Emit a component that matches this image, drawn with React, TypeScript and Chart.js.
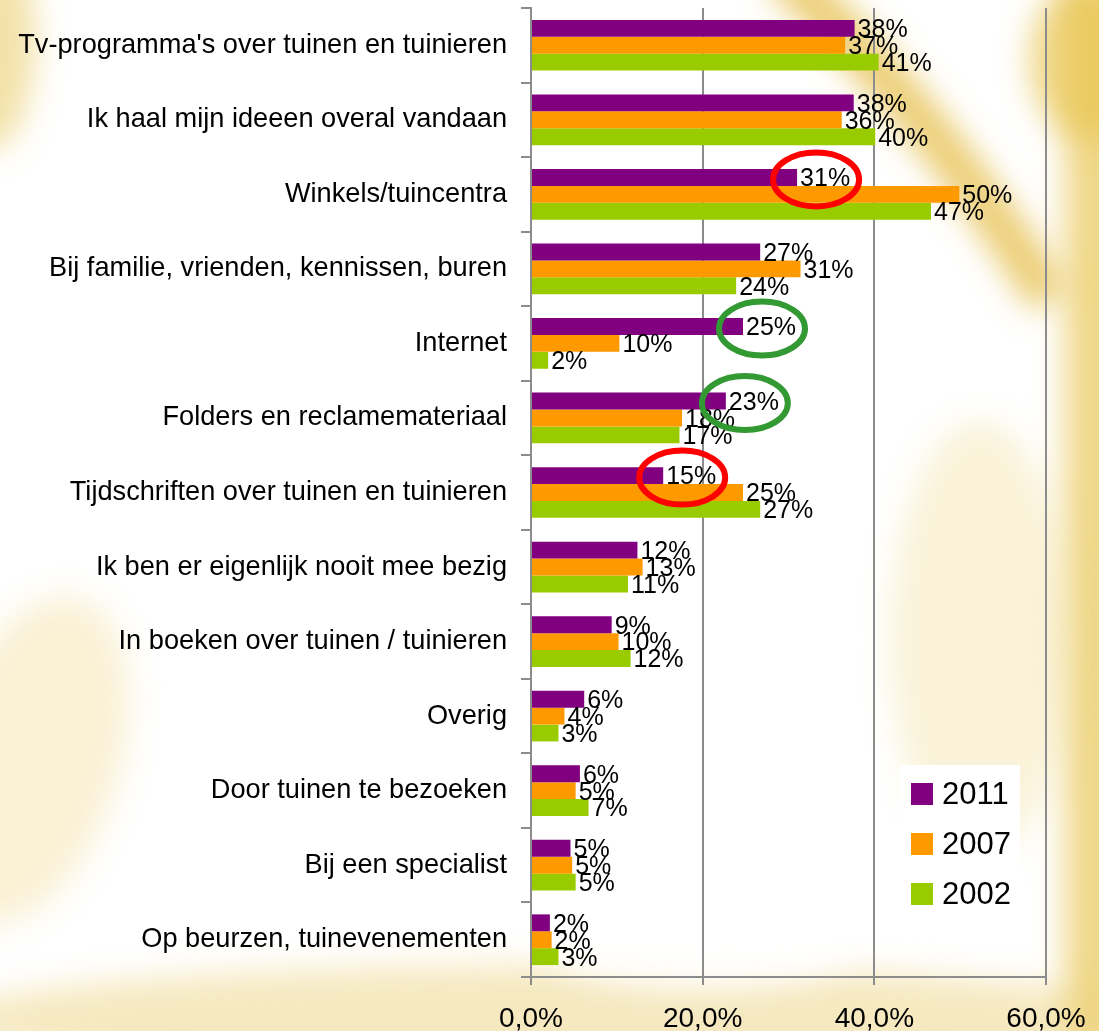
import React, { useEffect, useRef } from "react";
import { Chart, registerables } from "chart.js";

Chart.register(...registerables);

const categories = [
  "Tv-programma's over tuinen en tuinieren",
  "Ik haal mijn ideeen overal vandaan",
  "Winkels/tuincentra",
  "Bij familie, vrienden, kennissen, buren",
  "Internet",
  "Folders en reclamemateriaal",
  "Tijdschriften over tuinen en tuinieren",
  "Ik ben er eigenlijk nooit mee bezig",
  "In boeken over tuinen / tuinieren",
  "Overig",
  "Door tuinen te bezoeken",
  "Bij een specialist",
  "Op beurzen, tuinevenementen",
];

const seriesNames = ["2011", "2007", "2002"];
const values2011 = [37.7, 37.6, 31.0, 26.7, 24.7, 22.7, 15.4, 12.4, 9.4, 6.2, 5.7, 4.6, 2.2];
const values2007 = [36.6, 36.2, 49.9, 31.4, 10.3, 17.6, 24.7, 13.0, 10.2, 3.9, 5.2, 4.8, 2.4];
const values2002 = [40.5, 40.1, 46.6, 23.9, 2.0, 17.3, 26.7, 11.3, 11.6, 3.2, 6.7, 5.2, 3.2];
const seriesColors = ["#800080", "#FF9900", "#99CC00"];

const xTicks = [0, 20, 40, 60];

// highlighted 2011 bars (category index) with ring colour
const highlights = [
  { index: 2, color: "#FF0000" },
  { index: 4, color: "#339933" },
  { index: 5, color: "#339933" },
  { index: 6, color: "#FF0000" },
];

const FONT = "'Liberation Sans', Arial, sans-serif";

const backgroundPlugin = {
  id: "bgDecor",
  beforeDraw(chart: any) {
    const ctx = chart.ctx as CanvasRenderingContext2D;
    const w = chart.width;
    const h = chart.height;
    ctx.save();
    ctx.fillStyle = "#ffffff";
    ctx.fillRect(0, 0, w, h);
    ctx.filter = "blur(16px)";
    // top-left glow
    ctx.fillStyle = "rgba(232,196,80,0.5)";
    ctx.beginPath();
    ctx.ellipse(-10, 40, 45, 110, 0, 0, Math.PI * 2);
    ctx.fill();
    // diagonal swoosh top right
    ctx.strokeStyle = "rgba(228,186,60,0.75)";
    ctx.lineWidth = 42;
    ctx.beginPath();
    ctx.moveTo(780, -30);
    ctx.quadraticCurveTo(930, 110, 1050, 300);
    ctx.stroke();
    // right strip
    ctx.fillStyle = "rgba(232,196,80,0.7)";
    ctx.fillRect(1066, -20, 60, h + 40);
    // top right glow
    ctx.beginPath();
    ctx.ellipse(1090, 60, 60, 80, 0, 0, Math.PI * 2);
    ctx.fill();
    // bottom band
    ctx.fillStyle = "rgba(238,212,130,0.5)";
    ctx.beginPath();
    ctx.ellipse(560, 1020, 620, 55, 0, 0, Math.PI * 2);
    ctx.fill();
    // left lower glow
    ctx.fillStyle = "rgba(242,220,150,0.4)";
    ctx.beginPath();
    ctx.ellipse(30, 760, 90, 170, 0.3, 0, Math.PI * 2);
    ctx.fill();
    // middle right glow
    ctx.fillStyle = "rgba(240,216,130,0.3)";
    ctx.beginPath();
    ctx.ellipse(980, 640, 90, 220, 0, 0, Math.PI * 2);
    ctx.fill();
    // bottom middle white spot
    ctx.fillStyle = "rgba(255,255,255,0.85)";
    ctx.beginPath();
    ctx.ellipse(700, 950, 150, 40, 0, 0, Math.PI * 2);
    ctx.fill();
    ctx.restore();
  },
};

const labelsPlugin = {
  id: "valueLabels",
  afterDatasetsDraw(chart: any) {
    const ctx = chart.ctx as CanvasRenderingContext2D;
    ctx.save();
    ctx.font = `25px ${FONT}`;
    ctx.fillStyle = "#000";
    ctx.textAlign = "left";
    ctx.textBaseline = "middle";
    chart.data.datasets.forEach((ds: any, di: number) => {
      const meta = chart.getDatasetMeta(di);
      meta.data.forEach((el: any, i: number) => {
        const v = ds.data[i];
        ctx.fillText(Math.round(v) + "%", el.x + 3, el.y + 2);
      });
    });
    ctx.restore();
  },
};

const ringsPlugin = {
  id: "rings",
  afterDraw(chart: any) {
    const ctx = chart.ctx as CanvasRenderingContext2D;
    const meta = chart.getDatasetMeta(0);
    ctx.save();
    ctx.lineWidth = 6;
    highlights.forEach((hl) => {
      const el = meta.data[hl.index];
      if (!el) return;
      ctx.strokeStyle = hl.color;
      ctx.beginPath();
      ctx.ellipse(el.x + 19, el.y + 2, 43, 27, 0, 0, Math.PI * 2);
      ctx.stroke();
    });
    ctx.restore();
  },
};

const legendPlugin = {
  id: "boxLegend",
  afterDraw(chart: any) {
    const ctx = chart.ctx as CanvasRenderingContext2D;
    const area = chart.chartArea;
    const bx = area.right - 146;
    const by = area.bottom - 212;
    ctx.save();
    ctx.fillStyle = "#ffffff";
    ctx.fillRect(bx, by, 120, 152);
    ctx.font = `31px ${FONT}`;
    ctx.textBaseline = "middle";
    ctx.textAlign = "left";
    chart.data.datasets.forEach((ds: any, i: number) => {
      const cy = by + 29 + i * 50;
      ctx.fillStyle = ds.backgroundColor;
      ctx.fillRect(bx + 11, cy - 11, 22, 22);
      ctx.fillStyle = "#000";
      ctx.fillText(ds.label, bx + 42, cy + 1);
    });
    ctx.restore();
  },
};

export default function App() {
  const ref = useRef<HTMLCanvasElement>(null);
  useEffect(() => {
    document.body.style.margin = "0";
    const canvas = ref.current;
    if (!canvas) return;
    const seriesValues = [values2011, values2007, values2002];
    const chart = new Chart(canvas, {
      type: "bar",
      data: {
        labels: categories,
        datasets: seriesNames.map((name, i) => ({
          label: name,
          data: seriesValues[i],
          backgroundColor: seriesColors[i],
          borderWidth: 0,
          categoryPercentage: 0.68,
          barPercentage: 1.0,
        })),
      },
      options: {
        indexAxis: "y",
        responsive: false,
        animation: false,
        layout: { padding: { top: 8, right: 53, left: 0, bottom: 0 } },
        plugins: {
          legend: { display: false },
          tooltip: { enabled: false },
        },
        scales: {
          x: {
            min: 0,
            max: 60,
            afterBuildTicks: (s: any) => {
              s.ticks = xTicks.map((v) => ({ value: v }));
            },
            afterFit: (s: any) => {
              s.height = 54;
              s.paddingLeft = 0;
              s.paddingRight = 0;
            },
            ticks: {
              color: "#000",
              padding: 17,
              font: { family: FONT, size: 28 },
              callback: (v: any) => Number(v).toFixed(1).replace(".", ",") + "%",
            },
            grid: {
              color: "#8c8c8c",
              lineWidth: 2,
              tickLength: 8,
              drawTicks: true,
            },
            border: { color: "#8c8c8c", width: 2 },
          },
          y: {
            afterFit: (s: any) => {
              s.width = 531;
              s.paddingTop = 0;
              s.paddingBottom = 0;
            },
            ticks: {
              color: "#000",
              padding: 14,
              autoSkip: false,
              font: { family: FONT, size: 27.2 },
            },
            grid: {
              color: "#8c8c8c",
              lineWidth: 2,
              tickLength: 10,
              drawOnChartArea: false,
              drawTicks: true,
            },
            border: { color: "#8c8c8c", width: 2 },
          },
        },
      },
      plugins: [backgroundPlugin, labelsPlugin, ringsPlugin, legendPlugin],
    } as any);
    return () => chart.destroy();
  }, []);
  return (
    <div style={{ width: 1099, height: 1031, position: "relative" }}>
      <canvas ref={ref} width={1099} height={1031} style={{ display: "block", width: 1099, height: 1031 }} />
    </div>
  );
}
